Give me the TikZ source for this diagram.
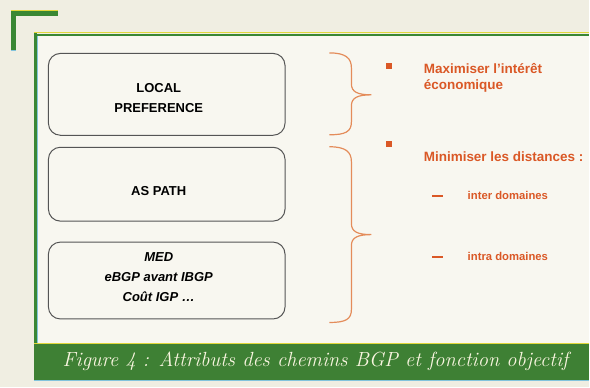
\documentclass[tikz,border=0pt]{standalone}
\usepackage{fontspec}
\setsansfont{Liberation Sans}
\begin{document}
\definecolor{paper}{RGB}{240,238,226}
\definecolor{inner}{RGB}{248,247,240}
\definecolor{framegreen}{RGB}{58,135,52}
\definecolor{frameyellow}{RGB}{225,215,60}
\definecolor{frameblue}{RGB}{130,195,220}
\definecolor{bandgreen}{RGB}{62,128,52}
\definecolor{captiontext}{RGB}{250,246,225}
\definecolor{boxline}{RGB}{85,85,85}
\definecolor{orangetext}{RGB}{218,88,38}
\definecolor{bracecol}{RGB}{228,140,90}
\begin{tikzpicture}[x=1pt,y=-1pt,
  attrbox/.style={draw=boxline,line width=1pt,rounded corners=12pt,minimum width=237pt,anchor=north west,inner sep=0pt},
  boxtext/.style={font=\sffamily\bfseries\fontsize{13}{20}\selectfont,align=center,text=black},
  goal/.style={font=\sffamily\bfseries\fontsize{13.5}{17}\selectfont,text=orangetext,anchor=west,align=left},
  subgoal/.style={font=\sffamily\bfseries\fontsize{11.3}{13}\selectfont,text=orangetext,anchor=west},
  bullet/.style={fill=orangetext,minimum size=6pt,inner sep=0pt},
  dashmark/.style={draw=orangetext,line width=2pt},
  bracepath/.style={draw=bracecol,line width=1.2pt}]
% page and frame
\fill[paper] (0,0) rectangle (590,388);
\fill[inner] (36,35) rectangle (590,344);
% corner mark
\fill[framegreen] (11,11) rectangle (58,16);
\fill[framegreen] (11,11) rectangle (16,50);
\draw[frameyellow,line width=1pt] (11,11) -- (58,11);
\draw[frameblue,line width=0.8pt] (11,50) -- (16,50);
% frame lines
\draw[frameyellow,line width=1pt] (34,33) -- (590,33);
\draw[framegreen,line width=2pt] (34,34.8) -- (590,34.8);
\draw[framegreen,line width=2.6pt] (35.3,33) -- (35.3,344);
\draw[frameblue,line width=0.6pt] (37.2,36) -- (37.2,344);
% caption band
\fill[bandgreen] (34,344) rectangle (590,381);
\draw[frameyellow,line width=0.8pt] (34,344) -- (590,344);
\draw[frameblue,line width=0.8pt] (34,381.5) -- (590,381.5);
\node[font=\itshape\fontsize{20.5}{24}\selectfont,text=captiontext] (caption) at (316,362)
  {Figure 4 : Attributs des chemins BGP et fonction objectif};
% attribute boxes
\node[attrbox,minimum height=82pt] (b1) at (48,53) {};
\node[attrbox,minimum height=74pt] (b2) at (48,147) {};
\node[attrbox,minimum height=77pt] (b3) at (48,242) {};
\node[boxtext] (t1) at (159,98) {LOCAL\\PREFERENCE};
\node[boxtext] (t2) at (159,191) {AS PATH};
\node[boxtext,font=\sffamily\bfseries\itshape\fontsize{13}{20}\selectfont] (t3) at (159,278)
  {MED\\eBGP avant IBGP\\Coût IGP \dots};
% braces
\coordinate (br1) at (372,95);
\coordinate (br2) at (372,235);
\path[bracepath] (330,53) .. controls (346,53) and (352,58) .. (352,68) -- (352,84)
  .. controls (352,92) and (358,95) .. (br1)
  .. controls (358,95) and (352,98) .. (352,106) -- (352,122)
  .. controls (352,132) and (346,135) .. (330,135);
\path[bracepath] (330,147) .. controls (346,147) and (352,152) .. (352,162) -- (352,224)
  .. controls (352,232) and (358,235) .. (br2)
  .. controls (358,235) and (352,238) .. (352,246) -- (352,310)
  .. controls (352,320) and (346,323) .. (330,323);
% objectives
\node[bullet] (s1) at (390,66) {};
\node[bullet] (s2) at (390,144) {};
\node[goal] (g1) at (421,78) {Maximiser l'intérêt\\économique};
\node[goal] (g2) at (421,157) {Minimiser les distances :};
\draw[dashmark] (433,196) -- (444,196);
\draw[dashmark] (433,257) -- (444,257);
\node[subgoal] (d1) at (465,196) {inter domaines};
\node[subgoal] (d2) at (465,257) {intra domaines};
\end{tikzpicture}
\end{document}
